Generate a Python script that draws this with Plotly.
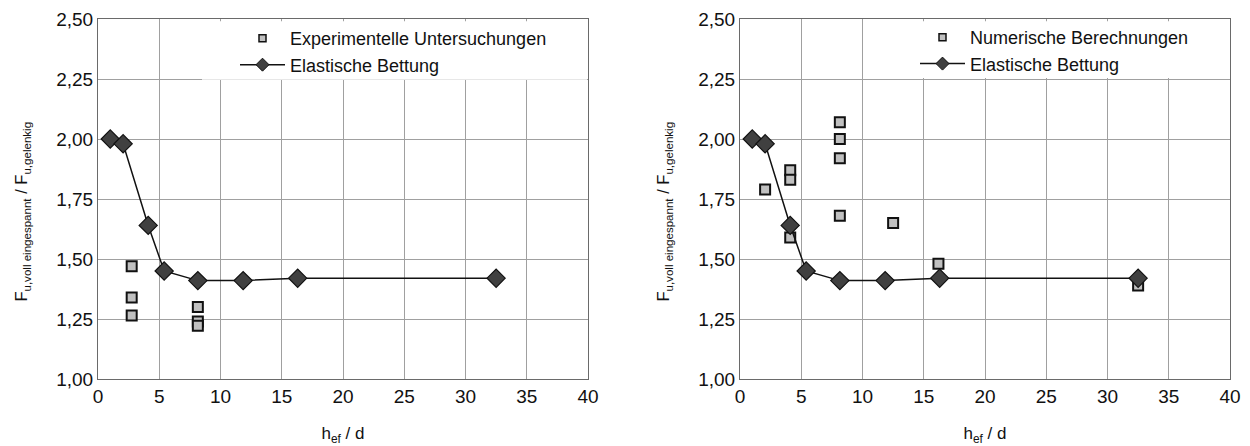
import plotly.graph_objects as go

# h_ef / d ratios and load ratios F_u,voll eingespannt / F_u,gelenkig
hd_elastic = [1.0, 2.05, 4.1, 5.4, 8.15, 11.85, 16.3, 32.5]
ratio_elastic = [2.00, 1.98, 1.64, 1.45, 1.41, 1.41, 1.42, 1.42]

hd_exp = [2.75, 2.75, 2.75, 8.15, 8.15, 8.15]
ratio_exp = [1.47, 1.34, 1.265, 1.30, 1.24, 1.222]

hd_num = [2.05, 4.1, 4.1, 4.1, 8.15, 8.15, 8.15, 8.15, 12.5, 16.2, 32.5]
ratio_num = [1.79, 1.87, 1.83, 1.59, 2.07, 2.00, 1.92, 1.68, 1.65, 1.48, 1.39]

x_ticks = [0, 5, 10, 15, 20, 25, 30, 35, 40]
y_ticks = [1.00, 1.25, 1.50, 1.75, 2.00, 2.25, 2.50]

Y_TITLE = "F<sub>u,voll eingespannt</sub> / F<sub>u,gelenkig</sub>"
X_TITLE = "h<sub>ef</sub> / d"

FONT = "Liberation Sans, Arial, sans-serif"
GRID = "#a0a0a0"
AXIS = "#6a6a6a"
SQ_FILL = "#c0c0c0"
DIA_FILL = "#404040"

square_marker = dict(symbol="square", size=10, color=SQ_FILL, line=dict(color="#111111", width=2))
diamond_marker = dict(symbol="diamond", size=14, color=DIA_FILL, line=dict(color="#111111", width=1.2))

fig = go.Figure()


def add_panel(fig, xa, ya, legend, sq_x, sq_y, sq_name):
    # data traces (legend entries come from the small legend-only traces)
    fig.add_trace(go.Scatter(x=sq_x, y=sq_y, mode="markers", marker=square_marker,
                             xaxis=xa, yaxis=ya, showlegend=False, hoverinfo="x+y"))
    fig.add_trace(go.Scatter(x=hd_elastic, y=ratio_elastic, mode="lines+markers",
                             line=dict(color="#111111", width=1.5), marker=diamond_marker,
                             xaxis=xa, yaxis=ya, showlegend=False, hoverinfo="x+y"))
    fig.add_trace(go.Scatter(x=[None], y=[None], mode="markers", name=sq_name,
                             marker=dict(symbol="square", size=7, color=SQ_FILL,
                                         line=dict(color="#111111", width=1.5)),
                             xaxis=xa, yaxis=ya, legend=legend))
    fig.add_trace(go.Scatter(x=[None], y=[None], mode="lines+markers", name="Elastische Bettung",
                             line=dict(color="#111111", width=1.5),
                             marker=dict(symbol="diamond", size=10, color=DIA_FILL,
                                         line=dict(color="#111111", width=1)),
                             xaxis=xa, yaxis=ya, legend=legend))


add_panel(fig, "x", "y", "legend", hd_exp, ratio_exp, "Experimentelle Untersuchungen")
add_panel(fig, "x2", "y2", "legend2", hd_num, ratio_num, "Numerische Berechnungen")

xaxis_common = dict(range=[0, 40], tickvals=x_ticks, showgrid=True, gridcolor=GRID, gridwidth=1,
                    showline=True, linecolor=AXIS, linewidth=1, mirror=True, zeroline=False,
                    ticks="", tickfont=dict(size=19, color="#111111"), automargin=False,
                    title=dict(text=X_TITLE, font=dict(size=17, color="#111111"), standoff=22))
yaxis_common = dict(range=[1.0, 2.5], tickvals=y_ticks, tickformat=".2f", showgrid=True,
                    gridcolor=GRID, gridwidth=1, showline=True, linecolor=AXIS, linewidth=1,
                    mirror=True, zeroline=False, ticks="", tickfont=dict(size=19, color="#111111"),
                    automargin=False)

legend_common = dict(bgcolor="rgba(255,255,255,0)", borderwidth=0, font=dict(size=18, color="#111111"),
                     itemwidth=45, tracegroupgap=0, xanchor="left", yanchor="top",
                     xref="paper", yref="paper")

# rotated y-axis titles, one per panel
y_title_notes = [
    dict(text=Y_TITLE, xref="paper", yref="paper", x=x_pos, y=0.465, textangle=-90,
         showarrow=False, xanchor="center", yanchor="middle",
         font=dict(size=16.5, color="#111111"))
    for x_pos in (22 / 1250, 664 / 1250)
]

fig.update_layout(
    width=1250, height=446,
    margin=dict(l=0, r=0, t=19, b=67, autoexpand=False),
    paper_bgcolor="white", plot_bgcolor="white",
    font=dict(family=FONT, color="#111111"),
    separators=",.",
    xaxis=dict(domain=[98 / 1250, 588 / 1250], anchor="y", **xaxis_common),
    yaxis=dict(domain=[0, 1], anchor="x", **yaxis_common),
    xaxis2=dict(domain=[740 / 1250, 1230 / 1250], anchor="y2", **xaxis_common),
    yaxis2=dict(domain=[0, 1], anchor="x2", **yaxis_common),
    legend=dict(x=235 / 1250, y=0.997, **legend_common),
    legend2=dict(x=915 / 1250, y=1.0, **legend_common),
    annotations=y_title_notes,
    shapes=[
        # white panels behind the legends, hiding the grid there
        dict(type="rect", xref="paper", yref="paper", x0=202 / 1250, x1=587 / 1250,
             y0=0.831, y1=0.994, fillcolor="white", line=dict(width=0), layer="above"),
        dict(type="rect", xref="paper", yref="paper", x0=882 / 1250, x1=1229 / 1250,
             y0=0.836, y1=0.994, fillcolor="white", line=dict(width=0), layer="above"),
    ],
    showlegend=True,
)

fig.write_html("out.html")
